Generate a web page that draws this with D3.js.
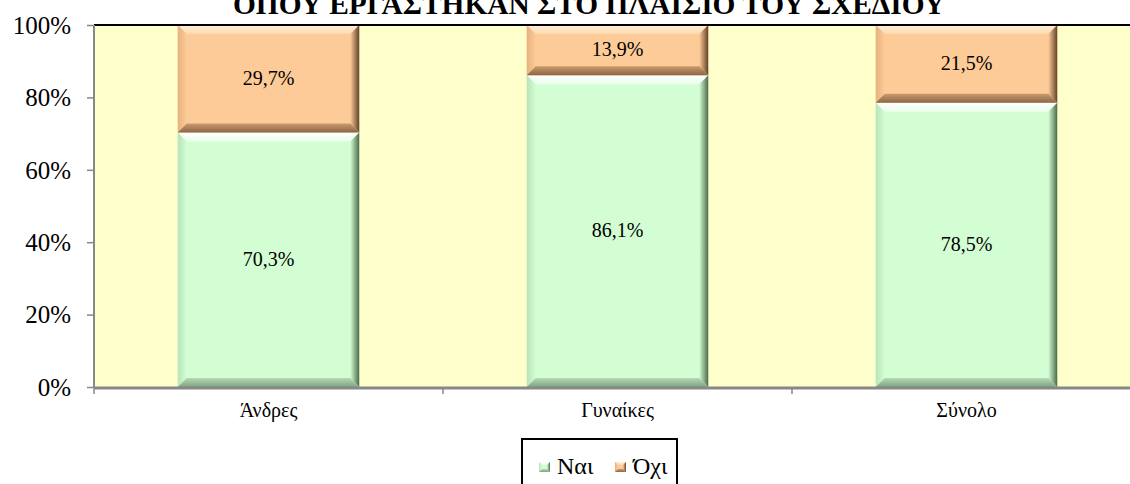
<!DOCTYPE html>
<html><head><meta charset="utf-8">
<script src="https://cdn.jsdelivr.net/npm/d3@7"></script>
<style>
html,body{margin:0;padding:0;background:#fff;overflow:hidden}
svg{display:block}
svg text{font-family:"Liberation Serif","Times New Roman","DejaVu Serif",serif !important}
</style></head>
<body>
<svg id="c" width="1130" height="484"></svg>
<script>
const title = "ΟΠΟΥ ΕΡΓΑΣΤΗΚΑΝ ΣΤΟ ΠΛΑΙΣΙΟ ΤΟΥ ΣΧΕΔΙΟΥ";
const categories = ["Άνδρες", "Γυναίκες", "Σύνολο"];
const seriesNames = ["Ναι", "Όχι"];
const nai = [70.3, 86.1, 78.5];
const oxi = [29.7, 13.9, 21.5];
const yTicks = [0, 20, 40, 60, 80, 100];

const svg = d3.select("#c");
const W = 1130, H = 484;
const m = {left: 94, top: 25, right: 1141, bottom: 387};

const x = d3.scaleBand().domain(categories).range([m.left, m.right]).paddingInner(0.48).paddingOuter(0.24);
const y = d3.scaleLinear().domain([0, 100]).range([m.bottom, m.top]);

const colors = {
  "Ναι": {fill:"#d3fdd3", top:["#ffffff","#eafeea"], left:["#b8e4b8","#d3fdd3"], right:["#d3fdd3","#4a6a4a"], bottom:["#b6d8b6","#7fa47f"]},
  "Όχι": {fill:"#fdcb98", top:["#fff0dc","#fcd9b0"], left:["#e6b27f","#fdcb98"], right:["#fdcb98","#634228"], bottom:["#c99a6c","#8c6646"]}
};

const defs = svg.append("defs");
function grad(id, c, x1,y1,x2,y2){
  const g = defs.append("linearGradient").attr("id", id).attr("x1",x1).attr("y1",y1).attr("x2",x2).attr("y2",y2);
  g.append("stop").attr("offset","0%").attr("stop-color", c[0]);
  g.append("stop").attr("offset","100%").attr("stop-color", c[1]);
}
seriesNames.forEach((s,i)=>{
  const c = colors[s];
  grad("t"+i, c.top, 0,0,0,1);
  grad("l"+i, c.left, 0,0,1,0);
  grad("r"+i, c.right, 0,0,1,0);
  grad("b"+i, c.bottom, 0,0,0,1);
});

// plot background
svg.append("rect").attr("x", m.left).attr("y", m.top).attr("width", m.right - m.left).attr("height", m.bottom - m.top).attr("fill", "#ffffcc");

// title
const t = svg.append("text").attr("x", 589).attr("y", 14).attr("text-anchor", "middle")
  .attr("font-weight", "bold").attr("font-size", 26).text(title);
const tw = t.node().getComputedTextLength();
t.attr("font-size", 26 * 712 / tw);

const stack = d3.stack().keys([0,1]).value((d,k)=>d[k]);
const rows = categories.map((c,i)=>[nai[i], oxi[i]]);
const stacked = stack(rows);

function bevelBar(g, x0, y0, w, h, si, bmax){
  const b = Math.min(bmax || 9, h/3);
  const x1 = x0 + w, y1 = y0 + h;
  g.append("rect").attr("x", x0).attr("y", y0).attr("width", w).attr("height", h).attr("fill", colors[seriesNames[si]].fill);
  const pts = a => a.map(p=>p.join(",")).join(" ");
  g.append("polygon").attr("points", pts([[x0,y0],[x1,y0],[x1-b,y0+b],[x0+b,y0+b]])).attr("fill", `url(#t${si})`);
  g.append("polygon").attr("points", pts([[x0,y0],[x0+b,y0+b],[x0+b,y1-b],[x0,y1]])).attr("fill", `url(#l${si})`);
  g.append("polygon").attr("points", pts([[x1,y0],[x1,y1],[x1-b,y1-b],[x1-b,y0+b]])).attr("fill", `url(#r${si})`);
  g.append("polygon").attr("points", pts([[x0,y1],[x0+b,y1-b],[x1-b,y1-b],[x1,y1]])).attr("fill", `url(#b${si})`);
}

const bars = svg.append("g");
stacked.forEach((layer, si)=>{
  layer.forEach((d, ci)=>{
    const cx = x(categories[ci]);
    const yt = y(d[1]), yb = y(d[0]);
    bevelBar(bars, cx, yt, x.bandwidth(), yb - yt, si);
    bars.append("text").attr("x", cx + x.bandwidth()/2).attr("y", (yt+yb)/2 + 6)
      .attr("text-anchor", "middle").attr("font-size", 20).attr("fill", "#000")
      .text(String(d.data[si].toFixed(1)).replace(".", ",") + "%");
  });
});

// top border (drawn over bars)
svg.append("line").attr("x1", m.left).attr("x2", W).attr("y1", m.top).attr("y2", m.top).attr("stroke", "#000").attr("stroke-width", 2);

// y axis
const yAxis = svg.append("g").attr("transform", `translate(${m.left},0)`)
  .call(d3.axisLeft(y).tickValues(yTicks).tickSize(7).tickFormat(d=>d+"%"));
yAxis.select(".domain").attr("stroke", "#888").attr("stroke-width", 2).attr("d", `M0,${m.top}V${m.bottom}`);
yAxis.selectAll(".tick line").attr("stroke", "#888").attr("stroke-width", 1.5);
yAxis.selectAll(".tick text").attr("font-size", 25).attr("fill", "#000").attr("x", -23).attr("dy", "0.33em");

// x axis
const xAxis = svg.append("g").attr("transform", `translate(0,${m.bottom})`)
  .call(d3.axisBottom(x).tickSize(0).tickPadding(16));
xAxis.select(".domain").attr("stroke", "#888").attr("stroke-width", 3).attr("d", `M${m.left},1H${m.right}`);
xAxis.selectAll(".tick text").attr("font-size", 20).attr("fill", "#000");
// category separators
const seps = [m.left].concat(categories.map(c => x(c) + x.bandwidth() + x.step()*0.24)).slice(0, 3);
xAxis.selectAll("line.sep").data(seps).enter().append("line").attr("class","sep")
  .attr("x1", d=>d).attr("x2", d=>d).attr("y1", 0).attr("y2", 7).attr("stroke", "#888").attr("stroke-width", 1.5);

// legend
const lg = svg.append("g");
lg.append("rect").attr("x", 522).attr("y", 439).attr("width", 155).attr("height", 60).attr("fill", "#fff").attr("stroke", "#000").attr("stroke-width", 2);
const lx = [539, 615];
seriesNames.forEach((s, i)=>{
  const g = lg.append("g");
  bevelBar(g, lx[i], 462, 11, 10, i, 3);
  g.append("text").attr("x", lx[i] + 18).attr("y", 474).attr("font-size", 24).attr("fill", "#000").text(s);
});
</script>
</body></html>
